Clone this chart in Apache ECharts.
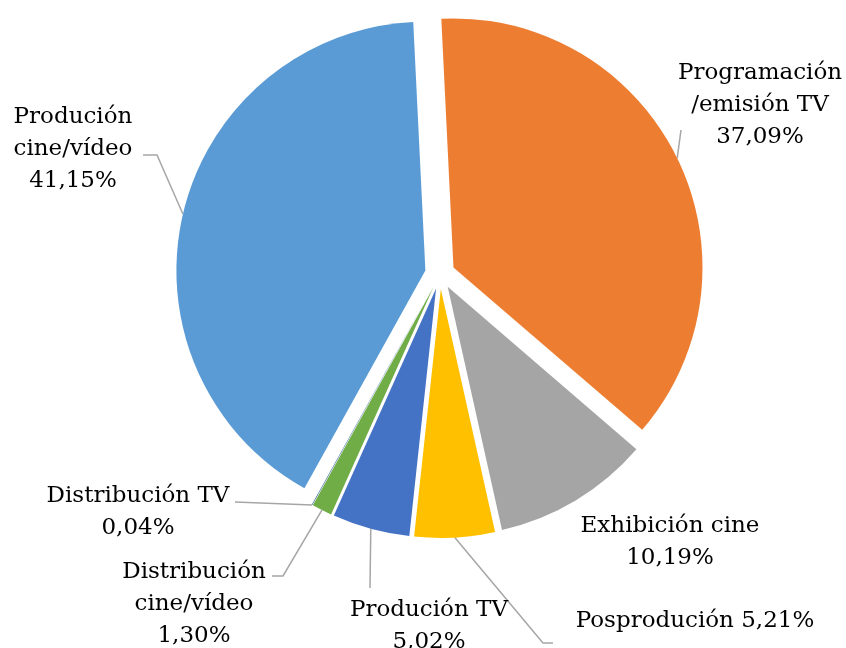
<!DOCTYPE html>
<html><head><meta charset="utf-8">
<script src="https://cdn.jsdelivr.net/npm/echarts@6/dist/echarts.min.js"></script>
<style>html,body{margin:0;padding:0;background:#fff}#c{width:846px;height:648px}</style>
</head><body><div id="c"></div>
<script>
// ---- data ----
const categories = ['Produción\ncine/vídeo', 'Programación\n/emisión TV', 'Exhibición cine', 'Posprodución', 'Produción TV', 'Distribución\ncine/vídeo', 'Distribución TV'];
const shares = [41.15, 37.09, 10.19, 5.21, 5.02, 1.30, 0.04];
const colors = ['#5B9BD5', '#ED7D31', '#A5A5A5', '#FFC000', '#4472C4', '#70AD47', '#255E91'];
const valueSeparator = ['\n', '\n', '\n', ' ', '\n', '\n', '\n'];

// ---- layout ----
const CX = 440, CY = 274, R = 249, EXPLODE = 15, START = 240.94;
const labelPos = [[73, 149], [760, 105], [670, 542], [695, 621], [429, 626], [194, 604], [138, 512]];
const leaderTail = [[[157, 155], [143, 155]], [[681, 130], [681, 130]], null, [[543, 643], [553, 643]], [[370, 588], [370, 588]], [[283, 576], [272, 576]], [[235, 502], [235, 502]]];

const total = shares.reduce((a, b) => a + b, 0);
function arcPoint(i) {
  let acc = 0;
  for (let k = 0; k < i; k++) acc += shares[k];
  const m = ((90 - START) + (acc + shares[i] / 2) / total * 360) * Math.PI / 180;
  return [CX + (R + EXPLODE) * Math.sin(m), CY - (R + EXPLODE) * Math.cos(m)];
}
const fmt = v => v.toFixed(2).replace('.', ',') + '%';

const chart = echarts.init(document.getElementById('c'), null, {renderer: 'canvas'});
chart.setOption({
  backgroundColor: '#ffffff',
  animation: false,
  series: [{
    // exploded slices
    type: 'pie',
    center: [CX, CY],
    radius: R,
    startAngle: START,
    selectedMode: 'multiple',
    selectedOffset: EXPLODE,
    emphasis: {disabled: true},
    silent: true,
    label: {show: false},
    labelLine: {show: false},
    select: {itemStyle: {borderWidth: 0}, label: {show: false}, labelLine: {show: false}},
    data: categories.map((n, i) => ({name: n, value: shares[i], selected: true, itemStyle: {color: colors[i]}}))
  }, {
    // labels and leader lines
    type: 'pie',
    center: [CX, CY],
    radius: R,
    startAngle: START,
    selectedMode: false,
    avoidLabelOverlap: false,
    emphasis: {disabled: true},
    silent: true,
    itemStyle: {color: 'rgba(0,0,0,0)', borderWidth: 0},
    label: {
      show: true,
      position: 'outside',
      fontFamily: 'DejaVu Serif',
      fontSize: 23,
      lineHeight: 32,
      color: '#000',
      formatter: p => p.name + valueSeparator[p.dataIndex] + fmt(p.value)
    },
    labelLine: {show: true, smooth: false, lineStyle: {color: '#A6A6A6', width: 1.5}},
    labelLayout: function (params) {
      const i = params.dataIndex;
      const res = {x: labelPos[i][0], y: labelPos[i][1], align: 'center', verticalAlign: 'middle', hideOverlap: false};
      if (leaderTail[i]) res.labelLinePoints = [arcPoint(i)].concat(leaderTail[i]);
      return res;
    },
    data: categories.map((n, i) => ({
      name: n, value: shares[i],
      labelLine: {show: leaderTail[i] !== null}
    }))
  }]
});
</script></body></html>
